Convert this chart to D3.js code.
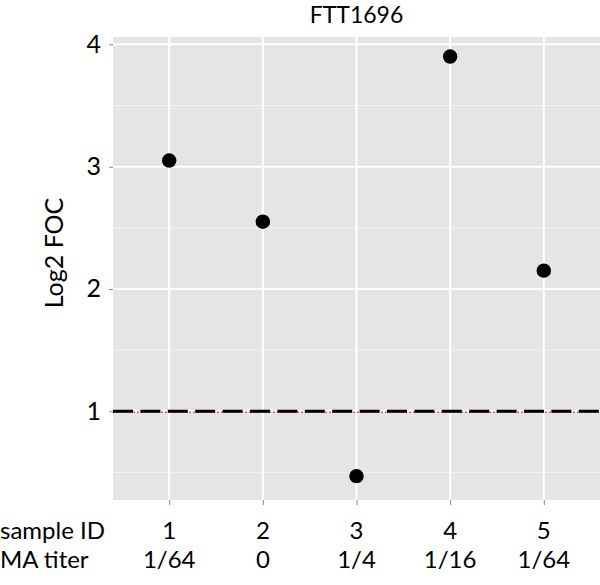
<!DOCTYPE html>
<html>
<head>
<meta charset="utf-8">
<script src="https://cdn.jsdelivr.net/npm/d3@7"></script>
<style>
  body { margin: 0; background: #fff; }
  text { font-family: Lato, "Liberation Sans", sans-serif; fill: #000; }
</style>
</head>
<body>
<div id="chart"></div>
<script>
// data
const sampleIds = ["1", "2", "3", "4", "5"];
const maTiters = ["1/64", "0", "1/4", "1/16", "1/64"];
const log2Foc = [3.05, 2.55, 0.47, 3.9, 2.15];
const yTicks = [1, 2, 3, 4];
const yMinor = [0.5, 1.5, 2.5, 3.5];
const cutoff = 1;
const title = "FTT1696";

const width = 600, height = 585;
const margin = { top: 37, right: 0, bottom: 85, left: 113 };

const svg = d3.select("#chart").append("svg")
    .attr("width", width)
    .attr("height", height);

const x = d3.scaleLinear()
    .domain([0.4, 5.6])
    .range([margin.left, width - margin.right]);

const y = d3.scaleLinear()
    .domain([0.275, 4.06])
    .range([height - margin.bottom, margin.top]);

// panel background
svg.append("rect")
    .attr("x", margin.left)
    .attr("y", margin.top)
    .attr("width", width - margin.right - margin.left)
    .attr("height", height - margin.bottom - margin.top)
    .attr("fill", "#e5e5e5");

// grid
const grid = svg.append("g");
grid.selectAll("line.minor").data(yMinor).enter().append("line")
    .attr("x1", margin.left).attr("x2", width - margin.right)
    .attr("y1", d => y(d)).attr("y2", d => y(d))
    .attr("stroke", "#f2f2f2").attr("stroke-width", 1);
grid.selectAll("line.major").data(yTicks).enter().append("line")
    .attr("x1", margin.left).attr("x2", width - margin.right)
    .attr("y1", d => y(d)).attr("y2", d => y(d))
    .attr("stroke", "#fff").attr("stroke-width", 2);
grid.selectAll("line.vert").data(sampleIds).enter().append("line")
    .attr("x1", (d, i) => x(i + 1)).attr("x2", (d, i) => x(i + 1))
    .attr("y1", margin.top).attr("y2", height - margin.bottom)
    .attr("stroke", "#fff").attr("stroke-width", 2);

// y axis
const yAxis = svg.append("g")
    .attr("transform", `translate(${margin.left},0)`)
    .call(d3.axisLeft(y).tickValues(yTicks).tickSize(4).tickPadding(8).tickFormat(d3.format("d")));
yAxis.select(".domain").remove();
yAxis.selectAll(".tick line").attr("stroke", "#888");
yAxis.selectAll(".tick text").style("font-size", "25px").attr("fill", "#000");

// x axis ticks
const xAxis = svg.append("g")
    .attr("transform", `translate(0,${height - margin.bottom})`)
    .call(d3.axisBottom(x).tickValues([1, 2, 3, 4, 5]).tickSize(5).tickFormat(""));
xAxis.select(".domain").remove();
xAxis.selectAll(".tick line").attr("stroke", "#888");

// x labels in two rows
const rowY = [539, 568];
const rowFont = "24px";
svg.selectAll("text.sid").data(sampleIds).enter().append("text")
    .attr("x", (d, i) => x(i + 1)).attr("y", rowY[0])
    .attr("text-anchor", "middle").style("font-size", rowFont)
    .text(d => d);
svg.selectAll("text.ma").data(maTiters).enter().append("text")
    .attr("x", (d, i) => x(i + 1)).attr("y", rowY[1])
    .attr("text-anchor", "middle").style("font-size", rowFont)
    .text(d => d);
svg.append("text").attr("x", 0).attr("y", rowY[0])
    .style("font-size", rowFont).text("sample ID");
svg.append("text").attr("x", 0).attr("y", rowY[1])
    .style("font-size", rowFont).text("MA titer");

// reference line at 1
svg.append("line")
    .attr("x1", margin.left).attr("x2", width)
    .attr("y1", y(cutoff) + 1).attr("y2", y(cutoff) + 1)
    .attr("stroke", "#d9585a").attr("stroke-width", 1.5)
    .attr("stroke-dasharray", "2,2");
svg.append("line")
    .attr("x1", margin.left).attr("x2", width)
    .attr("y1", y(cutoff)).attr("y2", y(cutoff))
    .attr("stroke", "#000").attr("stroke-width", 3)
    .attr("stroke-dasharray", "20,7.4");

// points
svg.selectAll("circle.pt").data(log2Foc).enter().append("circle")
    .attr("cx", (d, i) => x(i + 1))
    .attr("cy", d => y(d))
    .attr("r", 7.2)
    .attr("fill", "#000");

// title and y label
svg.append("text")
    .attr("x", (margin.left + width - margin.right) / 2)
    .attr("y", 23)
    .attr("text-anchor", "middle")
    .style("font-size", "23px")
    .text(title);

svg.append("text")
    .attr("transform", "translate(63,253) rotate(-90)")
    .attr("text-anchor", "middle")
    .style("font-size", "25px")
    .text("Log2 FOC");
</script>
</body>
</html>
